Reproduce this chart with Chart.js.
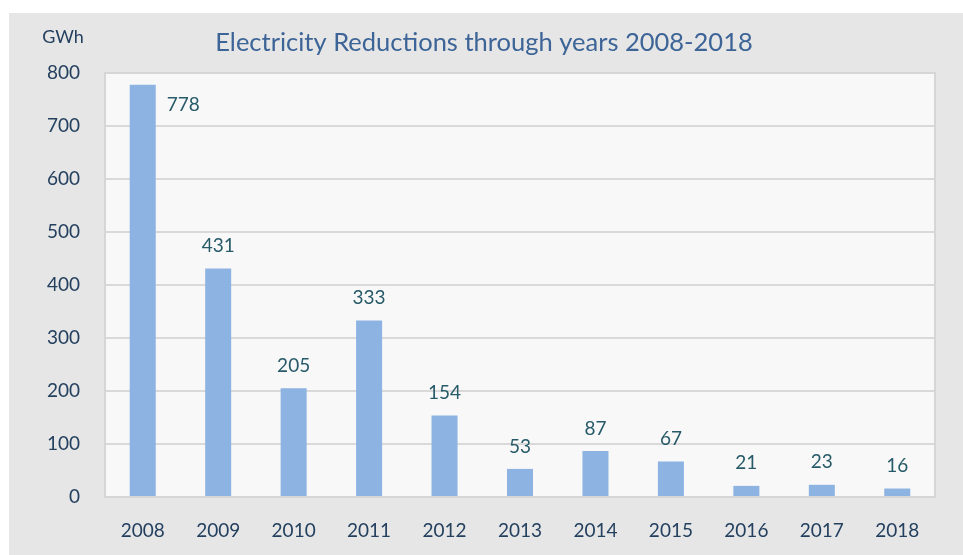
<!DOCTYPE html>
<html>
<head>
<meta charset="utf-8">
<script src="https://cdn.jsdelivr.net/npm/chart.js@4"></script>
<style>
  html, body { margin: 0; padding: 0; background: #ffffff; }
  #wrap { width: 963px; height: 555px; }
</style>
</head>
<body>
<div id="wrap"><canvas id="chart" width="963" height="555"></canvas></div>
<script>
const years = ["2008", "2009", "2010", "2011", "2012", "2013", "2014", "2015", "2016", "2017", "2018"];
const reductions = [778, 431, 205, 333, 154, 53, 87, 67, 21, 23, 16];
const yTicks = [0, 100, 200, 300, 400, 500, 600, 700, 800];

const titleText = "Electricity Reductions through years 2008-2018";
const unitText = "GWh";
const fontFamily = "Lato, 'Open Sans', sans-serif";

// gray panel, plot background, title and unit label
const frame = {
    id: "frame",
    beforeDraw(chart) {
        const ctx = chart.ctx;
        const a = chart.chartArea;
        ctx.save();
        ctx.fillStyle = "#e6e6e6";
        ctx.fillRect(9, 13, chart.width - 9, chart.height - 13);
        ctx.fillStyle = "#f8f8f8";
        ctx.fillRect(a.left, a.top, a.right - a.left, a.bottom - a.top);
        ctx.fillStyle = "#3c6497";
        ctx.font = "25.5px " + fontFamily;
        ctx.textAlign = "center";
        ctx.textBaseline = "middle";
        ctx.fillText(titleText, 484, 43);
        ctx.fillStyle = "#24405f";
        ctx.font = "18px " + fontFamily;
        ctx.fillText(unitText, 63, 37);
        ctx.restore();
    },
    afterDraw(chart) {
        const ctx = chart.ctx;
        const a = chart.chartArea;
        ctx.save();
        ctx.strokeStyle = "#d6d6d6";
        ctx.lineWidth = 2;
        ctx.strokeRect(a.left, a.top, a.right - a.left, a.bottom - a.top);
        ctx.restore();
    }
};

// value labels above bars (or beside when no room)
const valueLabels = {
    id: "valueLabels",
    afterDatasetsDraw(chart) {
        const ctx = chart.ctx;
        const meta = chart.getDatasetMeta(0);
        const a = chart.chartArea;
        ctx.save();
        ctx.fillStyle = "#275a68";
        ctx.font = "19px " + fontFamily;
        meta.data.forEach((bar, i) => {
            const txt = String(reductions[i]);
            if (bar.y - 40 < a.top) {
                ctx.textAlign = "left";
                ctx.textBaseline = "middle";
                ctx.fillText(txt, bar.x + bar.width / 2 + 11, bar.y + 20);
            } else {
                ctx.textAlign = "center";
                ctx.textBaseline = "bottom";
                ctx.fillText(txt, bar.x, bar.y - 13);
            }
        });
        ctx.restore();
    }
};

new Chart(document.getElementById("chart"), {
    type: "bar",
    data: {
        labels: years,
        datasets: [
            {
                label: "Electricity Reductions",
                data: reductions,
                backgroundColor: "#8db3e2",
                borderWidth: 0,
                categoryPercentage: 1,
                barPercentage: 0.345
            }
        ]
    },
    options: {
        responsive: false,
        animation: false,
        layout: {
            padding: { left: 9, top: 73, right: 28, bottom: 13 }
        },
        plugins: {
            legend: { display: false },
            tooltip: { enabled: false }
        },
        scales: {
            x: {
                grid: { display: false, drawTicks: false },
                border: { display: false },
                ticks: {
                    color: "#24405f",
                    font: { family: fontFamily, size: 19 },
                    padding: 22,
                    maxRotation: 0
                },
                afterFit(scale) { scale.height = 45; }
            },
            y: {
                min: 0,
                max: 800,
                afterBuildTicks(scale) {
                    scale.ticks = yTicks.map(v => ({ value: v }));
                },
                grid: { color: "#d9d9d9", lineWidth: 2, drawTicks: false },
                border: { display: false },
                ticks: {
                    color: "#24405f",
                    font: { family: fontFamily, size: 19 },
                    padding: 25
                },
                afterFit(scale) { scale.width = 96; }
            }
        }
    },
    plugins: [frame, valueLabels]
});
</script>
</body>
</html>
